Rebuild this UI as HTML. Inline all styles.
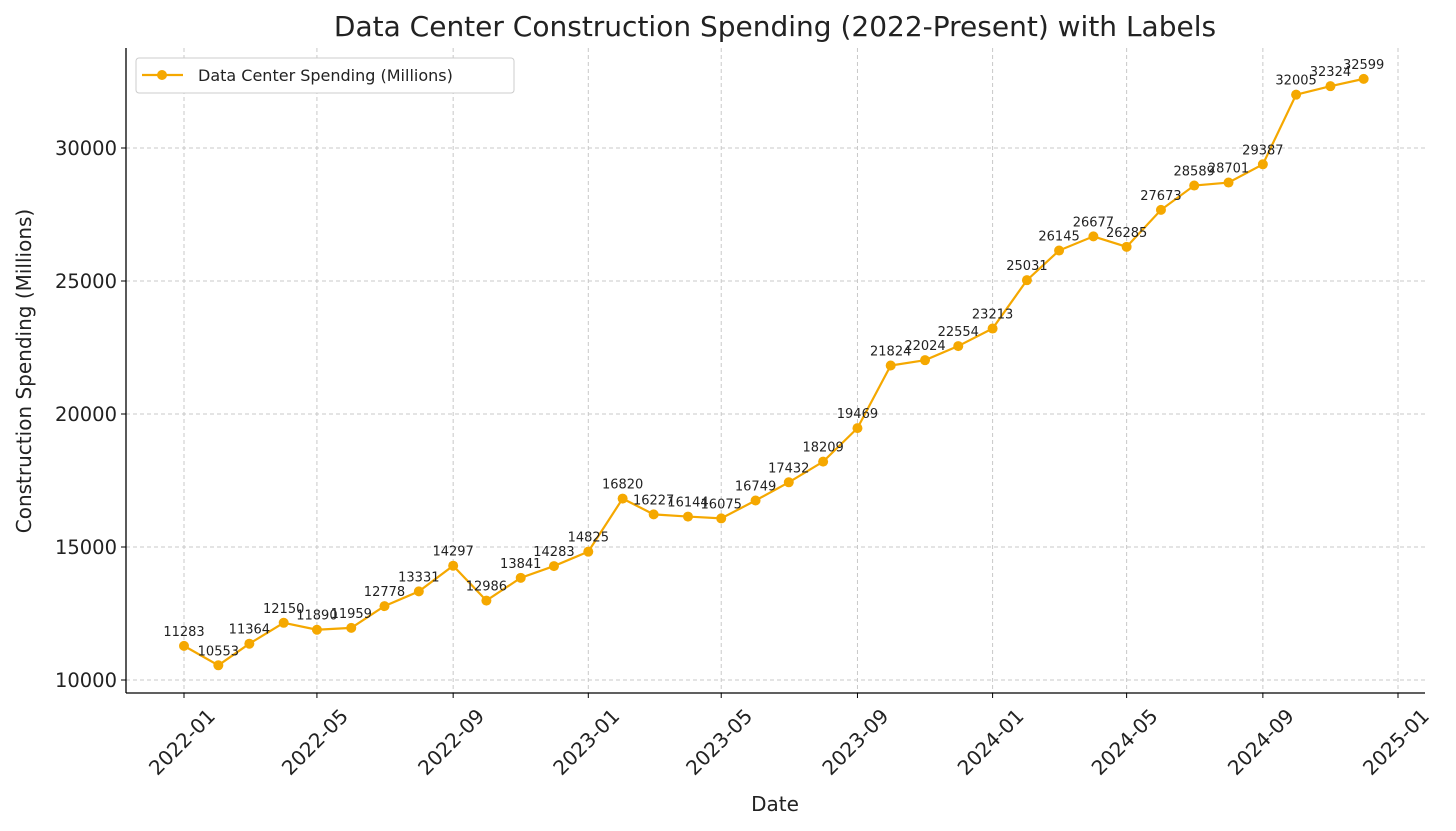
<!DOCTYPE html>
<html><head><meta charset="utf-8"><style>
html,body{margin:0;padding:0;background:#fff;}
svg{display:block;font-family:"DejaVu Sans","Liberation Sans",sans-serif;}
</style></head><body>
<svg id="chart" width="1456" height="831" viewBox="0 0 1456 831" xmlns="http://www.w3.org/2000/svg">
<text x="775" y="36" font-size="28" text-anchor="middle" fill="#222">Data Center Construction Spending (2022-Present) with Labels</text>
<text x="775" y="811" font-size="20" text-anchor="middle" fill="#222">Date</text>
<text transform="translate(31,371) rotate(-90)" font-size="20" text-anchor="middle" fill="#222">Construction Spending (Millions)</text>
<g id="grid"></g><g id="axes"></g><g id="series"></g>
<g>
<rect x="136" y="58" width="378" height="35" rx="3" fill="#fff" stroke="#ccc"/>
<line x1="142" y1="75" x2="183" y2="75" stroke="#f5a800" stroke-width="2.2"/>
<circle cx="162" cy="75" r="5" fill="#f5a800"/>
<text x="198" y="81" font-size="16" fill="#222">Data Center Spending (Millions)</text>
</g>
</svg>
<script>
const values=[11283,10553,11364,12150,11890,11959,12778,13331,14297,12986,13841,14283,14825,16820,16227,16144,16075,16749,17432,18209,19469,21824,22024,22554,23213,25031,26145,26677,26285,27673,28589,28701,29387,32005,32324,32599];
const xTickLabels=["2022-01","2022-05","2022-09","2023-01","2023-05","2023-09","2024-01","2024-05","2024-09","2025-01"];
const yTicks=[10000,15000,20000,25000,30000];
const NS="http://www.w3.org/2000/svg";
const t0=Date.UTC(2022,0,1);
function xDate(y,m){return 184+(Date.UTC(y,m,1)-t0)/86400000*(1214/1096);}
function yS(v){return 680-(v-10000)*0.0266;}
function mk(tag,attrs,parent,text){const e=document.createElementNS(NS,tag);for(const k in attrs)e.setAttribute(k,attrs[k]);if(text!==undefined)e.textContent=text;parent.appendChild(e);return e;}
const grid=document.getElementById('grid'),axes=document.getElementById('axes'),series=document.getElementById('series');
const L=126,R=1425,T=48,B=693;
yTicks.forEach(v=>{const y=yS(v);
 const g=mk('line',{x1:L,x2:R,y1:y,y2:y,stroke:'#c8c8c8','stroke-dasharray':'4,3'},grid);
 
 
 mk('line',{x1:L-5,x2:L,y1:y,y2:y,stroke:'#000'},axes);
 const t=mk('text',{x:L-9,y:y+7,'font-size':19.5,'text-anchor':'end',fill:'#222'},axes,String(v));
 
 
});
xTickLabels.forEach(s=>{const [yy,mm]=s.split('-').map(Number);const x=xDate(yy,mm-1);
 const g=mk('line',{x1:x,x2:x,y1:T,y2:B,stroke:'#c8c8c8','stroke-dasharray':'4,3'},grid);
 
 
 mk('line',{x1:x,x2:x,y1:B,y2:B+5,stroke:'#000'},axes);
 const t=mk('text',{transform:`translate(${x-1},743) rotate(-45)`,'font-size':20,'text-anchor':'middle','dominant-baseline':'middle',fill:'#222'},axes,s);
 
 
});
mk('line',{x1:L,x2:L,y1:T,y2:B,stroke:'#000','stroke-width':1.3},axes);
mk('line',{x1:L,x2:R,y1:B,y2:B,stroke:'#000','stroke-width':1.3},axes);
const pts=values.map((v,i)=>[xDate(2022+Math.floor(i/12),i%12),yS(v)]);
const line=mk('polyline',{points:pts.map(p=>p.join(',')).join(' '),fill:'none',stroke:'#f5a800','stroke-width':2.2},series);


pts.forEach((p,i)=>{
 const c=mk('circle',{cx:p[0],cy:p[1],r:5,fill:'#f5a800'},series);
 
 
 const t=mk('text',{x:p[0],y:p[1]-10,'font-size':13,'text-anchor':'middle',fill:'#222'},series,String(values[i]));
 
 
});
</script>
</body></html>
